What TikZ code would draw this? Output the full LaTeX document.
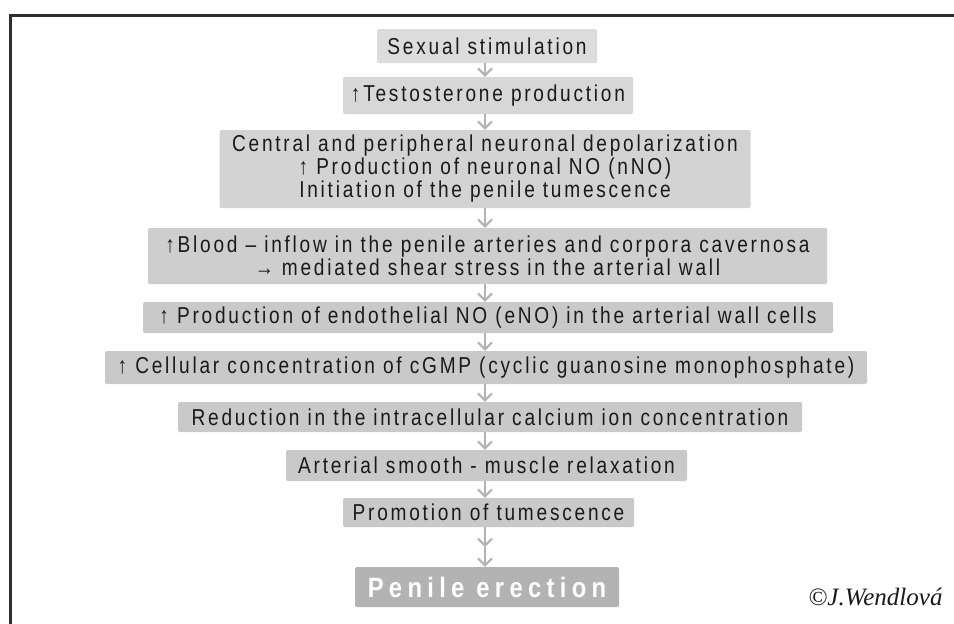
\documentclass[tikz,border=0pt]{standalone}
\usepackage{fontspec}
\setmainfont{Liberation Sans}[LetterSpace=12, FakeStretch=0.83]
\newfontfamily\boldfont{Liberation Sans}[LetterSpace=19, FakeStretch=0.85, BoldFont={* Bold}]
\newfontfamily\sigfont{Liberation Serif}
\usetikzlibrary{arrows.meta}
\definecolor{boxA}{HTML}{DCDCDC}
\definecolor{boxB}{HTML}{D7D7D7}
\definecolor{boxC}{HTML}{D3D3D3}
\definecolor{boxD}{HTML}{CECECE}
\definecolor{boxE}{HTML}{C9C9C9}
\definecolor{boxF}{HTML}{B3B3B3}
\definecolor{txt}{HTML}{1A1A1A}
\definecolor{arr}{HTML}{B2B2B2}
\definecolor{frame}{HTML}{2E2E2E}
\tikzset{
  stepbox/.style={fill=boxE, rounded corners=1.5pt, align=center, text=txt,
    font=\fontsize{23}{23}\selectfont, inner sep=0pt},
  flow/.style={draw=arr, line width=2.3pt, -{Straight Barb[length=7pt,width=14pt,line width=2.1pt]}}
}
\begin{document}
\begin{tikzpicture}[x=1pt,y=-1pt]
\useasboundingbox (0,0) rectangle (954,624);
\fill[white] (0,0) rectangle (954,624);
% frame
\draw[frame, line width=3pt] (10,624) -- (10,15) -- (954,15);

\node[stepbox, fill=boxA, minimum width=220, minimum height=34] (n1) at (487,46) {Sexual stimulation};
\node[stepbox, fill=boxB, minimum width=290, minimum height=37] (n2) at (488,95.5) {↑Testosterone production};
\node[stepbox, fill=boxC, minimum width=531, minimum height=78] (n3) at (485,169) {Central and peripheral neuronal depolarization\\↑ Production of neuronal NO (nNO)\\Initiation of the penile tumescence};
\node[stepbox, fill=boxD, minimum width=679, minimum height=56] (n4) at (487.5,256) {↑Blood – inflow in the penile arteries and corpora cavernosa\\→ mediated shear stress in the arterial wall};
\node[stepbox, minimum width=690, minimum height=31] (n5) at (488,317.5) {↑ Production of endothelial NO (eNO) in the arterial wall cells};
\node[stepbox, minimum width=762, minimum height=33] (n6) at (486,367.5) {↑ Cellular concentration of cGMP (cyclic guanosine monophosphate)};
\node[stepbox, minimum width=624, minimum height=30] (n7) at (490,417) {Reduction in the intracellular calcium ion concentration};
\node[stepbox, minimum width=401, minimum height=31] (n8) at (486.5,465.5) {Arterial smooth - muscle relaxation};
\node[stepbox, minimum width=291, minimum height=29] (n9) at (488.5,512.5) {Promotion of tumescence};
\node[stepbox, fill=boxF, text=white, minimum width=264, minimum height=40, font=\boldfont\bfseries\fontsize{28}{28}\selectfont] (n10) at (487,587) {Penile erection};

\draw[flow] (n1.south -| 485,0) -- (n2.north -| 485,0);
\draw[flow] (n2.south -| 485,0) -- (n3.north -| 485,0);
\draw[flow] (n3.south -| 485,0) -- (n4.north -| 485,0);
\draw[flow] (n4.south -| 485,0) -- (n5.north -| 485,0);
\draw[flow] (n5.south -| 485,0) -- (n6.north -| 485,0);
\draw[flow] (n6.south -| 485,0) -- (n7.north -| 485,0);
\draw[flow] (n7.south -| 485,0) -- (n8.north -| 485,0);
\draw[flow] (n8.south -| 485,0) -- (n9.north -| 485,0);
\coordinate (mid) at (485,547);
\draw[flow] (n9.south -| 485,0) -- (mid);
\draw[flow] (mid) -- (n10.north -| 485,0);

\node[font=\sigfont\itshape\fontsize{25}{25}\selectfont, text=txt, anchor=base east] (sig) at (946,605) {©J.Wendlová};
\end{tikzpicture}
\end{document}
